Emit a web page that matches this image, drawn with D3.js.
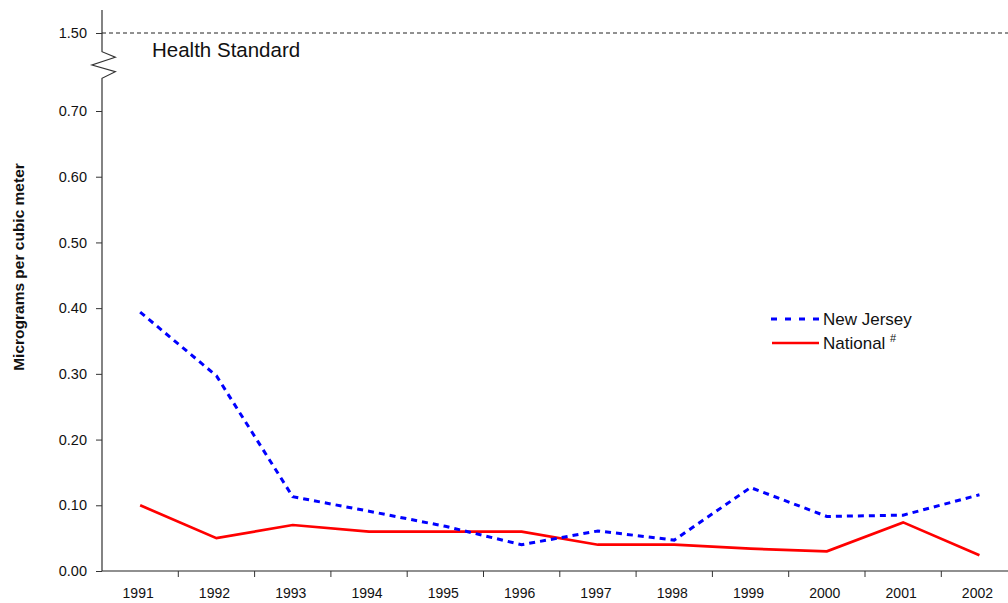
<!DOCTYPE html>
<html lang="en">
<head>
    <meta charset="utf-8">
    <script type="text/javascript" src="https://d3js.org/d3.v7.min.js"></script>
    <style>
        body { margin: 0; background: #fff; }
        text { font-family: "Liberation Sans", Arial, sans-serif; }
    </style>
</head>

<body>
    <script type="text/javascript">
        // SVG width and height
        let w = 1008;
        let h = 603;

        // Dataset
        let years = ["1991", "1992", "1993", "1994", "1995", "1996", "1997", "1998", "1999", "2000", "2001", "2002"];
        let newJersey = [0.394, 0.297, 0.113, 0.091, 0.068, 0.040, 0.061, 0.047, 0.127, 0.083, 0.085, 0.116];
        let national = [0.100, 0.050, 0.070, 0.060, 0.060, 0.060, 0.040, 0.040, 0.034, 0.030, 0.074, 0.024];
        let yTicks = [0, 0.1, 0.2, 0.3, 0.4, 0.5, 0.6, 0.7, 1.5];
        let healthStandard = 1.5;

        let left = 102, bottom = 571;

        let svg = d3.select("body").append("svg")
                    .attr("width", w)
                    .attr("height", h);

        // x: one band per year, ticks on band edges
        let x = d3.scaleBand()
            .domain(years)
            .range([left, left + 12 * 76.3]);

        // y: broken scale, 0-0.70 linear, then jump to 1.50
        let y = d3.scaleLinear()
            .domain([0, 0.7, 1.5])
            .range([bottom, 111, 33]);

        // Y axis (domain drawn by hand because of the break)
        let yAxis = svg.append("g")
            .attr("transform", `translate(${left},0)`)
            .call(d3.axisLeft(y).tickValues(yTicks).tickFormat(d3.format(".2f")).tickSize(6).tickPadding(9));
        yAxis.select(".domain").remove();
        yAxis.selectAll("line").attr("stroke", "#333");
        yAxis.selectAll("text").attr("font-size", "14.5px").attr("fill", "#111")
            .style("font-family", "'Liberation Sans', Arial, sans-serif");

        let axisPath = d3.path();
        axisPath.moveTo(left, bottom);
        axisPath.lineTo(left, 78.3);
        axisPath.lineTo(left + 13.3, 71.7);
        axisPath.lineTo(left - 10, 65);
        axisPath.lineTo(left + 13.3, 57.3);
        axisPath.lineTo(left, 51.7);
        axisPath.lineTo(left, 10);
        svg.append("path")
            .attr("d", axisPath.toString())
            .attr("fill", "none")
            .attr("stroke", "#333")
            .attr("stroke-width", 1.2);

        // X axis
        svg.append("line")
            .attr("x1", left).attr("x2", w)
            .attr("y1", bottom).attr("y2", bottom)
            .attr("stroke", "#222").attr("stroke-width", 1.2);

        svg.selectAll(".xtick")
            .data(years)
            .join("line")
                .attr("class", "xtick")
                .attr("x1", d => x(d) + x.bandwidth())
                .attr("x2", d => x(d) + x.bandwidth())
                .attr("y1", bottom)
                .attr("y2", bottom + 6)
                .attr("stroke", "#333");

        svg.selectAll(".xlabel")
            .data(years)
            .join("text")
                .attr("class", "xlabel")
                .text(d => d)
                .attr("x", d => x(d) + x.bandwidth() / 2 - 2)
                .attr("y", 598)
                .attr("text-anchor", "middle")
                .attr("font-size", "14px")
                .attr("fill", "#111");

        // Y axis title
        svg.append("text")
            .text("Micrograms per cubic meter")
            .attr("transform", "translate(24,267) rotate(-90)")
            .attr("text-anchor", "middle")
            .attr("font-size", "15.5px")
            .attr("font-weight", "bold")
            .attr("fill", "#111");

        // Health standard line
        svg.append("line")
            .attr("x1", left).attr("x2", w)
            .attr("y1", y(healthStandard)).attr("y2", y(healthStandard))
            .attr("stroke", "#222")
            .attr("stroke-dasharray", "4,3");

        svg.append("text")
            .text("Health Standard")
            .attr("x", 152)
            .attr("y", 57)
            .attr("font-size", "20.5px")
            .attr("fill", "#111");

        // Lines
        let line = d3.line()
            .x((d, i) => x(years[i]) + x.bandwidth() / 2)
            .y(d => y(d));

        svg.append("path")
            .datum(national)
            .attr("d", line)
            .attr("fill", "none")
            .attr("stroke", "#ff0000")
            .attr("stroke-width", 2.7);

        svg.append("path")
            .datum(newJersey)
            .attr("d", line)
            .attr("fill", "none")
            .attr("stroke", "#0000ff")
            .attr("stroke-width", 3)
            .attr("stroke-dasharray", "6,5");

        // Legend
        svg.append("line")
            .attr("x1", 771).attr("x2", 822)
            .attr("y1", 319).attr("y2", 319)
            .attr("stroke", "#0000ff")
            .attr("stroke-width", 3)
            .attr("stroke-dasharray", "6,8");
        svg.append("text")
            .text("New Jersey")
            .attr("x", 823).attr("y", 325)
            .attr("font-size", "17px")
            .attr("fill", "#111");

        svg.append("line")
            .attr("x1", 772).attr("x2", 819)
            .attr("y1", 343).attr("y2", 343)
            .attr("stroke", "#ff0000")
            .attr("stroke-width", 2.7);
        let nat = svg.append("text")
            .attr("x", 823).attr("y", 349)
            .attr("font-size", "17px")
            .attr("fill", "#111");
        nat.append("tspan").text("National ");
        nat.append("tspan").text("#").attr("font-size", "11px").attr("dy", -7);
    </script>
</body>
</html>
